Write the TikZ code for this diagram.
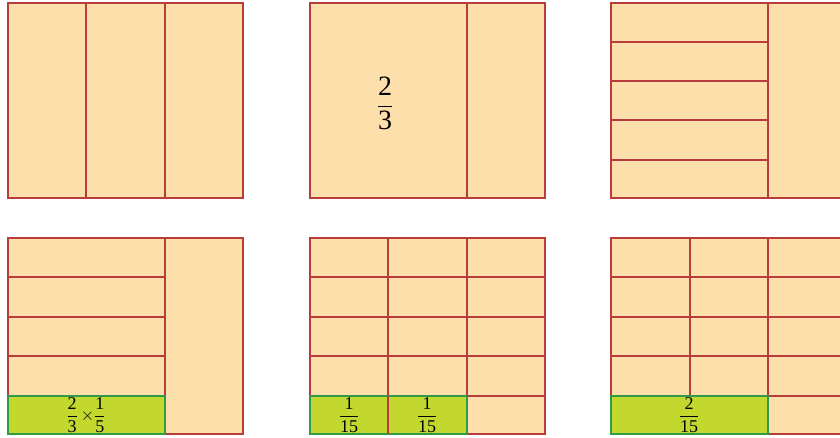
\documentclass[tikz,border=0pt]{standalone}
\usepackage{fontspec}
\setmainfont{Liberation Serif}
\definecolor{peach}{HTML}{FDDFAB}
\definecolor{redline}{HTML}{B83C3A}
\definecolor{lime}{HTML}{C2D82E}
\definecolor{greenline}{HTML}{2F9A48}
\newcommand{\tfr}[2]{\ensuremath{\displaystyle\frac{\hbox{#1}}{\hbox{#2}}}}
\begin{document}
\begin{tikzpicture}[x=1pt,y=-1pt,
  cell/.style={fill=peach,draw=redline,line width=1.3pt},
  gridline/.style={draw=redline,line width=1.3pt},
  shade/.style={fill=lime,draw=greenline,line width=1.4pt},
  bigfrac/.style={font=\fontsize{28}{30}\selectfont,inner sep=0pt},
  smallfrac/.style={font=\fontsize{18}{20}\selectfont,inner sep=0pt}]
\useasboundingbox (0,0) rectangle (840,438);
\clip (0,0) rectangle (840,438);
% ---- top row ----
% square 1
\draw[cell] (8,3) rectangle (243,198);
\draw[gridline] (86,3) -- (86,198) (165,3) -- (165,198);
% square 2
\draw[cell] (310,3) rectangle (545,198);
\draw[gridline] (467,3) -- (467,198);
\node[bigfrac] (twothirds) at (385,103) {\tfr{2}{3}};
% square 3
\draw[cell] (611,3) rectangle (846,198);
\draw[gridline] (768,3) -- (768,198);
\foreach \yy in {42,81,120,160} \draw[gridline] (611,\yy) -- (768,\yy);
% ---- bottom row ----
% square 4
\draw[cell] (8,238) rectangle (243,434);
\draw[gridline] (165,238) -- (165,434);
\foreach \yy in {277,317,356,396} \draw[gridline] (8,\yy) -- (165,\yy);
\draw[shade] (8,396) rectangle (165,434);
\node[smallfrac] (prod) at (86,415) {\tfr{2}{3}\,$\times$\tfr{1}{5}};
% square 5
\draw[cell] (310,238) rectangle (545,434);
\draw[gridline] (388,238) -- (388,434) (467,238) -- (467,434);
\foreach \yy in {277,317,356,396} \draw[gridline] (310,\yy) -- (545,\yy);
\draw[shade] (310,396) rectangle (467,434);
\draw[gridline] (388,396) -- (388,434);
\node[smallfrac] (fifteenA) at (349,415) {\tfr{1}{15}};
\node[smallfrac] (fifteenB) at (427,415) {\tfr{1}{15}};
% square 6
\draw[cell] (611,238) rectangle (846,434);
\draw[gridline] (690,238) -- (690,396) (768,238) -- (768,434);
\foreach \yy in {277,317,356,396} \draw[gridline] (611,\yy) -- (846,\yy);
\draw[shade] (611,396) rectangle (768,434);
\node[smallfrac] (twofifteen) at (689,415) {\tfr{2}{15}};
\end{tikzpicture}
\end{document}
